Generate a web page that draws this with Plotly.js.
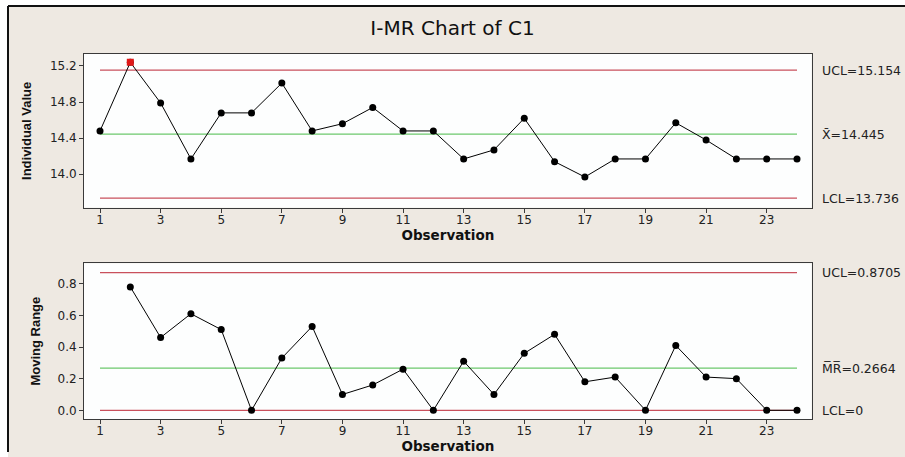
<!DOCTYPE html>
<html>
<head>
<meta charset="utf-8">
<script src="https://cdn.plot.ly/plotly-3.0.1.min.js"></script>
<style>html,body{margin:0;padding:0;background:#fff;}#chart{width:905px;height:457px;}</style>
</head>
<body>
<div id="chart"></div>
<script>
// ---- data ----
const observation = [1,2,3,4,5,6,7,8,9,10,11,12,13,14,15,16,17,18,19,20,21,22,23,24];
const individualValue = [14.48,15.24,14.79,14.17,14.68,14.68,15.01,14.48,14.56,14.74,14.48,14.48,
                         14.17,14.27,14.62,14.14,13.97,14.17,14.17,14.57,14.38,14.17,14.17,14.17];
const movingRange = [null,0.78,0.46,0.61,0.51,0.00,0.33,0.53,0.10,0.16,0.26,0.00,
                     0.31,0.10,0.36,0.48,0.18,0.21,0.00,0.41,0.21,0.20,0.00,0.00];
const iLimits = {ucl: 15.154, center: 14.445, lcl: 13.736};
const mrLimits = {ucl: 0.8705, center: 0.2664, lcl: 0};
const outOfControl = [2];   // observations flagged above UCL
const xTickVals = [1,3,5,7,9,11,13,15,17,19,21,23];
const iTickVals = [14.0,14.4,14.8,15.2];
const mrTickVals = [0.0,0.2,0.4,0.6,0.8];
const iLabels = ["UCL=15.154", "X\u0304=14.445", "LCL=13.736"];
const mrLabels = ["UCL=0.8705", "M\u0305R\u0305=0.2664", "LCL=0"];

// ---- style ----
const RED = '#c9505c', GREEN = '#6cc86c', AX = '#3a3a3a', BEIGE = '#eee9e2';
const W = 905, H = 457;
const px = v => v / W, py = v => 1 - v / H;
const xEnds = [observation[0], observation[observation.length - 1]];

function hline(y, color, xa, ya) {
  return {x: xEnds, y: [y, y], mode: 'lines', line: {color: color, width: 1.3},
          xaxis: xa, yaxis: ya, hoverinfo: 'skip', showlegend: false};
}

const flagX = outOfControl, flagY = outOfControl.map(o => individualValue[observation.indexOf(o)]);

const traces = [
  hline(iLimits.ucl, RED, 'x', 'y'), hline(iLimits.lcl, RED, 'x', 'y'), hline(iLimits.center, GREEN, 'x', 'y'),
  {x: observation, y: individualValue, mode: 'lines+markers', line: {color: '#000', width: 1},
   marker: {color: '#000', size: 7}, xaxis: 'x', yaxis: 'y', showlegend: false},
  {x: flagX, y: flagY, mode: 'markers', marker: {color: '#e01818', size: 7, symbol: 'square'},
   xaxis: 'x', yaxis: 'y', showlegend: false},
  hline(mrLimits.ucl, RED, 'x2', 'y2'), hline(mrLimits.lcl, RED, 'x2', 'y2'), hline(mrLimits.center, GREEN, 'x2', 'y2'),
  {x: observation, y: movingRange, mode: 'lines+markers', line: {color: '#000', width: 1},
   marker: {color: '#000', size: 7}, xaxis: 'x2', yaxis: 'y2', showlegend: false, connectgaps: false}
];

const tickFont = {family: 'DejaVu Sans', size: 12, color: '#222'};
const xTitleFont = {family: 'DejaVu Sans', size: 13.5, color: '#111', weight: 'bold'};
const yTitleFont = {family: 'Liberation Sans', size: 13, color: '#111', weight: 'bold'};
const xRange = [0.472, 24.485];
const xDomain = [px(84), px(811.7)];

function xAxis(anchor) {
  return {domain: xDomain, range: xRange, anchor: anchor, tickmode: 'array', tickvals: xTickVals,
          ticktext: xTickVals.map(String), showgrid: false, zeroline: false, showline: true, mirror: true,
          linecolor: AX, linewidth: 1, ticks: 'outside', ticklen: 4, tickcolor: AX, tickfont: tickFont,
          ticklabelstandoff: -3,
          title: {text: 'Observation', font: xTitleFont, standoff: 0}};
}
function yAxis(anchor, domain, range, vals, title, standoff) {
  return {domain: domain, range: range, anchor: anchor, tickmode: 'array', tickvals: vals,
          ticktext: vals.map(v => v.toFixed(1)), showgrid: false, zeroline: false, showline: true, mirror: true,
          linecolor: AX, linewidth: 1, ticks: 'outside', ticklen: 4, tickcolor: AX, tickfont: tickFont,
          title: {text: title, font: yTitleFont, standoff: standoff}};
}

const annFont = {family: 'DejaVu Sans', size: 12.5, color: '#222'};
const annotations = [];
[iLimits.ucl, iLimits.center, iLimits.lcl].forEach((v, i) => annotations.push(
  {xref: 'paper', yref: 'y', x: px(820), y: v, text: iLabels[i], showarrow: false, xanchor: 'left', font: annFont}));
[mrLimits.ucl, mrLimits.center, mrLimits.lcl].forEach((v, i) => annotations.push(
  {xref: 'paper', yref: 'y2', x: px(820), y: v, text: mrLabels[i], showarrow: false, xanchor: 'left', font: annFont}));

const layout = {
  width: W, height: H, margin: {l: 0, r: 0, t: 0, b: 0},
  paper_bgcolor: BEIGE, plot_bgcolor: '#fdfefe', showlegend: false,
  title: {text: 'I-MR Chart of C1', x: 0.5, xanchor: 'center', y: py(28), yanchor: 'middle',
          font: {family: 'DejaVu Sans', size: 20, color: '#111'}},
  xaxis: xAxis('y'),
  yaxis: yAxis('x', [py(207.7), py(54)], [13.630, 15.332], iTickVals, 'Individual Value', 15),
  xaxis2: xAxis('y2'),
  yaxis2: yAxis('x2', [py(419), py(263.3)], [-0.055, 0.929], mrTickVals, 'Moving Range', 13),
  annotations: annotations,
  shapes: [
    {type: 'rect', xref: 'paper', yref: 'paper', x0: 0, x1: px(8), y0: 0, y1: 1, fillcolor: '#ffffff', line: {width: 0}, layer: 'above'},
    {type: 'rect', xref: 'paper', yref: 'paper', x0: 0, x1: 1, y0: py(6), y1: 1, fillcolor: '#ffffff', line: {width: 0}, layer: 'above'},
    {type: 'line', xref: 'paper', yref: 'paper', x0: px(8), x1: 1, y0: py(6), y1: py(6), line: {color: '#111', width: 2}, layer: 'above'},
    {type: 'line', xref: 'paper', yref: 'paper', x0: px(8), x1: px(8), y0: py(6), y1: py(452), line: {color: '#111', width: 2}, layer: 'above'}
  ]
};

Plotly.newPlot('chart', traces, layout, {staticPlot: true, displayModeBar: false});
</script>
</body>
</html>
